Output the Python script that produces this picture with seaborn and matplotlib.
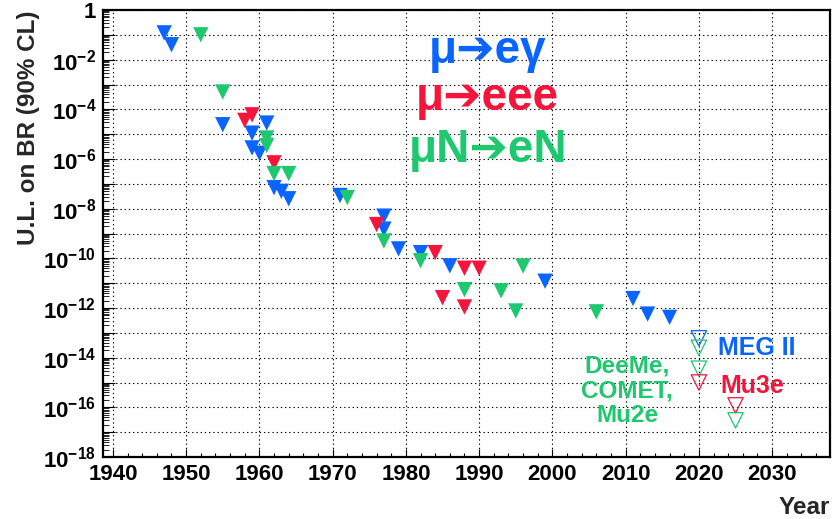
import numpy as np
import pandas as pd
import matplotlib
matplotlib.use("Agg")
import matplotlib.pyplot as plt
import seaborn as sns
from matplotlib.ticker import FixedLocator, FixedFormatter, LogLocator, NullFormatter, MultipleLocator

# ---------------- data ----------------
meg_years = [1947, 1948, 1955, 1959, 1959, 1960, 1961, 1962, 1963, 1964,
             1971, 1977, 1977, 1979, 1982, 1986, 1999, 2011, 2013, 2016]
meg_br = [1.2e-1, 4e-2, 2.4e-5, 1.1e-5, 2.8e-6, 1.7e-6, 2.8e-5, 7e-8, 5e-8, 2.5e-8,
          3.4e-8, 5e-9, 1.5e-9, 2.4e-10, 1.7e-10, 5e-11, 1.2e-11, 2.4e-12, 5.7e-13, 4.2e-13]

eee_years = [1958, 1959, 1962, 1976, 1984, 1985, 1988, 1988, 1990]
eee_br = [3.6e-5, 6e-5, 7e-7, 2.3e-9, 1.7e-10, 2.6e-12, 4e-11, 1.1e-12, 4e-11]

conv_years = [1952, 1955, 1961, 1961, 1962, 1964, 1972, 1977, 1982, 1988, 1993, 1995, 1996, 2006]
conv_br = [1e-1, 5e-4, 7e-6, 3.5e-6, 2.6e-7, 2.6e-7, 2.8e-8, 5e-10, 8e-11, 5.5e-12,
           4.9e-12, 7.6e-13, 4.9e-11, 7e-13]

# future sensitivities (open markers)
fut_process = ["mu->e gamma", "mu->eN", "mu->eN", "mu->eee", "mu->eee", "mu->eN"]
fut_years = [2020, 2020, 2020, 2020, 2025, 2025]
fut_br = [6e-14, 2.5e-14, 3.6e-15, 1e-15, 1.2e-16, 3e-17]

x_tick_labels = ["1940", "1950", "1960", "1970", "1980", "1990", "2000", "2010", "2020", "2030"]
y_decades = list(range(0, -19, -1))

palette = {"mu->e gamma": "#0A64FF", "mu->eee": "#F5143C", "mu->eN": "#1EC86E"}

df = pd.concat([
    pd.DataFrame({"year": meg_years, "br": meg_br, "process": "mu->e gamma"}),
    pd.DataFrame({"year": eee_years, "br": eee_br, "process": "mu->eee"}),
    pd.DataFrame({"year": conv_years, "br": conv_br, "process": "mu->eN"}),
], ignore_index=True)
df_fut = pd.DataFrame({"year": fut_years, "br": fut_br, "process": fut_process})

# ---------------- style ----------------
sns.set_theme(style="white")
plt.rcParams["font.family"] = ["Liberation Sans", "DejaVu Sans"]
plt.rcParams["font.weight"] = "bold"
plt.rcParams["mathtext.fontset"] = "custom"
plt.rcParams["mathtext.rm"] = "Liberation Sans:bold"
plt.rcParams["mathtext.it"] = "Liberation Sans:bold"
plt.rcParams["mathtext.bf"] = "Liberation Sans:bold"
plt.rcParams["mathtext.default"] = "rm"

fig = plt.figure(figsize=(8.33, 5.19), dpi=100)
ax = fig.add_axes([103 / 833, 1 - 457 / 519, 727 / 833, 447 / 519])

sns.scatterplot(data=df, x="year", y="br", hue="process", palette=palette,
                marker="v", s=122, linewidth=0, legend=False, ax=ax, zorder=3)
sns.scatterplot(data=df_fut, x="year", y="br", hue="process", palette=palette,
                marker="v", s=122, linewidth=0.9, legend=False, ax=ax, zorder=3)
coll = ax.collections[-1]
fcs = coll.get_facecolors()
coll.set_edgecolors(fcs)
coll.set_facecolors("none")

ax.set_yscale("log")
ax.set_xlim(1938.65, 2037.9)
ax.set_ylim(1e-18, 1)

# ticks
ax.xaxis.set_minor_locator(MultipleLocator(2))
ax.set_xticks([int(t) for t in x_tick_labels])
ax.set_xticklabels(x_tick_labels)

ylocs = [10.0 ** d for d in y_decades]
ylabels = []
for d in y_decades:
    if d % 2 != 0:
        ylabels.append("")
    elif d == 0:
        ylabels.append("1")
    else:
        ylabels.append(r"$10^{%d}$" % d)
ax.yaxis.set_major_locator(FixedLocator(ylocs))
ax.yaxis.set_major_formatter(FixedFormatter(ylabels))
ax.yaxis.set_minor_locator(LogLocator(base=10, subs=np.arange(2, 10), numticks=200))
ax.yaxis.set_minor_formatter(NullFormatter())

ax.tick_params(axis="both", which="both", direction="in", colors="black",
               bottom=True, left=True, top=False, right=False)
ax.tick_params(axis="x", which="major", length=6, width=0.8, pad=5, labelsize=16)
ax.tick_params(axis="x", which="minor", length=3, width=0.8)
ax.tick_params(axis="y", which="major", length=8.5, width=0.8, pad=5, labelsize=16)
ax.tick_params(axis="y", which="minor", length=4.5, width=0.6)

ax.grid(True, which="major", color="black", linestyle=(0, (1.2, 2.6)), linewidth=0.8)
for sp in ax.spines.values():
    sp.set_color("black")
    sp.set_linewidth(1.6)

ax.set_xlabel("Year", loc="right", fontsize=17.5, fontweight="bold", labelpad=8)
ax.set_ylabel("U.L. on BR (90% CL)", loc="top", fontsize=17.5, fontweight="bold", labelpad=2)

# annotations
big = dict(ha="center", va="baseline", fontsize=33, fontweight="bold", transform=ax.transAxes)
ax.text(0.529, 0.8814, "μ➔eγ", color=palette["mu->e gamma"], **big)
ax.text(0.529, 0.7763, "μ➔eee", color=palette["mu->eee"], **big)
ax.text(0.529, 0.6606, "μN➔eN", color=palette["mu->eN"], **big)

ax.text(0.7208, 0.1477, "DeeMe,\nCOMET,\nMu2e", color=palette["mu->eN"], ha="center",
        va="center", multialignment="center", linespacing=1.1, fontsize=17.5,
        fontweight="bold", transform=ax.transAxes)
ax.text(0.846, 0.2282, "MEG II", color=palette["mu->e gamma"], ha="left", va="baseline",
        fontsize=18, fontweight="bold", transform=ax.transAxes)
ax.text(0.849, 0.1432, "Mu3e", color=palette["mu->eee"], ha="left", va="baseline",
        fontsize=18, fontweight="bold", transform=ax.transAxes)

fig.savefig("out.png", dpi=100)
